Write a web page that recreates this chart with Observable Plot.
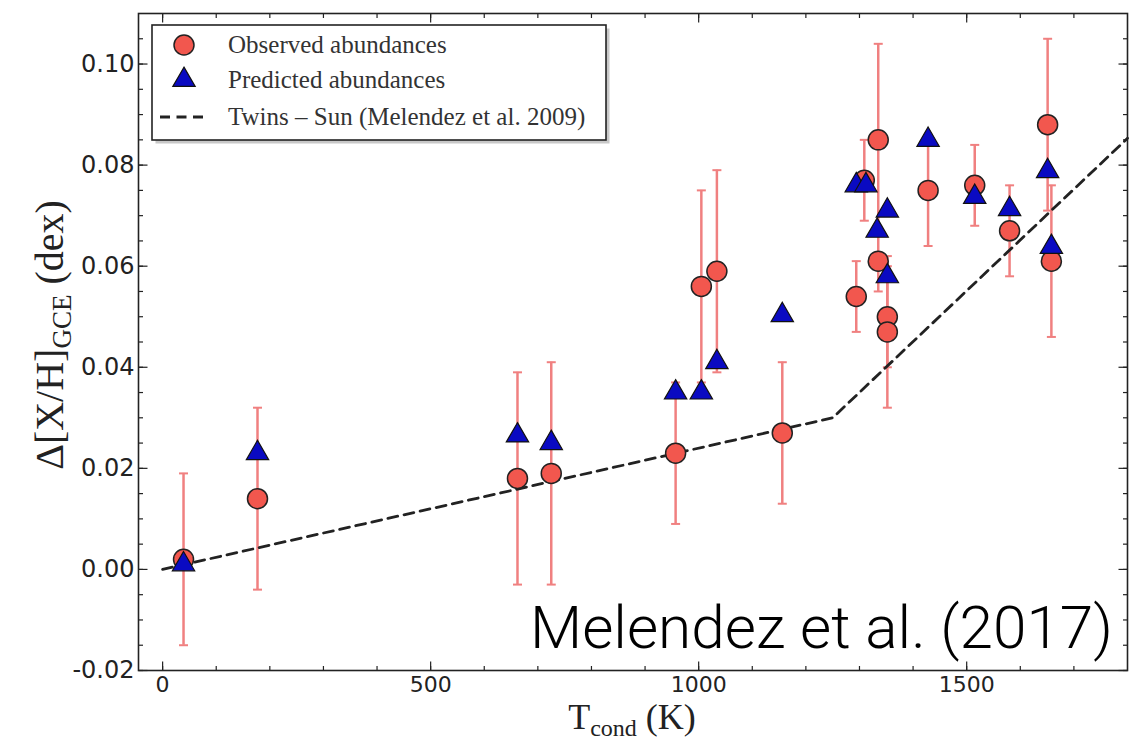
<!DOCTYPE html>
<html><head><meta charset="utf-8">
<script src="https://cdn.jsdelivr.net/npm/d3@7"></script>
<script src="https://cdn.jsdelivr.net/npm/@observablehq/plot@0.6"></script>
<style>
body{margin:0;background:#fff}
#wrap{position:relative;width:1129px;height:742px;overflow:hidden;background:#fff}
#wrap svg.ov{position:absolute;left:0;top:0}
</style>
</head><body><div id="wrap"></div>
<script>
// ---- data ----
const tcond     = [39, 177, 662, 725, 957, 1005, 1034, 1156, 1294, 1309, 1335, 1335, 1352, 1352, 1428, 1515, 1580, 1651, 1658];
const observed  = [0.002, 0.014, 0.018, 0.019, 0.023, 0.056, 0.059, 0.027, 0.054, 0.077, 0.085, 0.061, 0.050, 0.047, 0.075, 0.076, 0.067, 0.088, 0.061];
const obsError  = [0.017, 0.018, 0.021, 0.022, 0.014, 0.019, 0.020, 0.014, 0.007, 0.008, 0.019, 0.006, 0.010, 0.015, 0.011, 0.008, 0.009, 0.017, 0.015];
const predTcond = [39, 177, 662, 725, 957, 1005, 1034, 1156, 1294, 1312, 1333, 1352, 1352, 1428, 1515, 1580, 1651, 1658];
const predicted = [0.001, 0.023, 0.0265, 0.025, 0.035, 0.035, 0.041, 0.0503, 0.076, 0.076, 0.067, 0.071, 0.058, 0.085, 0.0737, 0.0713, 0.0788, 0.0638];
const twinsTcond = [0, 1250, 1800];
const twinsSun   = [0, 0.030, 0.0853];
const xTickLabels = [0, 500, 1000, 1500];
const yTickLabels = [-0.02, 0.00, 0.02, 0.04, 0.06, 0.08, 0.10];
const xMinorTicks = [0,100,200,300,400,500,600,700,800,900,1000,1100,1200,1300,1400,1500,1600,1700];
const yMinorTicks = [-0.02,-0.015,-0.01,-0.005,0,0.005,0.01,0.015,0.02,0.025,0.03,0.035,0.04,0.045,0.05,0.055,0.06,0.065,0.07,0.075,0.08,0.085,0.09,0.095,0.10,0.105];

const obsData = tcond.map((t, i) => ({t, v: observed[i], e: obsError[i]}));
const predData = predTcond.map((t, i) => ({t, v: predicted[i]}));
const twinsData = twinsTcond.map((t, i) => ({t, v: twinsSun[i]}));

const RED = "#f2574e", ERR = "#f08080", BLUE = "#0a0ac2", INK = "#222";
const seg = (dx, dy) => ({draw(c) { c.moveTo(0, 0); c.lineTo(dx, dy); }});
const cap = {draw(c) { c.moveTo(-4.5, 0); c.lineTo(4.5, 0); }};
const tickOpts = {stroke: INK, fill: "none", strokeWidth: 1.2};

const chart = Plot.plot({
  width: 1129, height: 742,
  marginLeft: 138, marginRight: 2, marginTop: 13, marginBottom: 72,
  x: {domain: [-45, 1800]},
  y: {domain: [-0.02, 0.11]},
  style: {background: "transparent", overflow: "visible"},
  marks: [
    // error bars
    Plot.ruleX(obsData, {x: "t", y1: d => d.v - d.e, y2: d => d.v + d.e, stroke: ERR, strokeWidth: 2.5}),
    Plot.dot(obsData, {x: "t", y: d => d.v - d.e, symbol: cap, stroke: ERR, fill: "none", strokeWidth: 2}),
    Plot.dot(obsData, {x: "t", y: d => d.v + d.e, symbol: cap, stroke: ERR, fill: "none", strokeWidth: 2}),
    // trend line
    Plot.line(twinsData, {x: "t", y: "v", stroke: INK, strokeWidth: 2.8, strokeDasharray: "10,6.5"}),
    // observed
    Plot.dot(obsData, {x: "t", y: "v", r: 10, fill: RED, stroke: INK, strokeWidth: 1.5}),
    // predicted
    Plot.dot(predData, {x: "t", y: "v", symbol: "triangle", r: 8.3, fill: BLUE, stroke: "#111", strokeWidth: 1.2}),
    // inward ticks: minor
    Plot.dot(xMinorTicks, {x: d => d, frameAnchor: "bottom", symbol: seg(0, -4.5), ...tickOpts}),
    Plot.dot(xMinorTicks, {x: d => d, frameAnchor: "top", symbol: seg(0, 4.5), ...tickOpts}),
    Plot.dot(yMinorTicks, {y: d => d, frameAnchor: "left", symbol: seg(4.5, 0), ...tickOpts}),
    Plot.dot(yMinorTicks, {y: d => d, frameAnchor: "right", symbol: seg(-4.5, 0), ...tickOpts}),
    // inward ticks: major
    Plot.dot(xTickLabels, {x: d => d, frameAnchor: "bottom", symbol: seg(0, -9), ...tickOpts}),
    Plot.dot(xTickLabels, {x: d => d, frameAnchor: "top", symbol: seg(0, 9), ...tickOpts}),
    Plot.dot(yTickLabels, {y: d => d, frameAnchor: "left", symbol: seg(9, 0), ...tickOpts}),
    Plot.dot(yTickLabels, {y: d => d, frameAnchor: "right", symbol: seg(-9, 0), ...tickOpts}),
    // tick labels
    Plot.axisX(xTickLabels, {anchor: "bottom", tickSize: 0, tickPadding: 6, label: null,
      tickFormat: d => String(d), fontSize: 22, fontFamily: "DejaVu Sans", fill: INK, stroke: INK, strokeWidth: 0.4}),
    Plot.axisY(yTickLabels, {anchor: "left", tickSize: 0, tickPadding: 4, label: null,
      tickFormat: d => d.toFixed(2), fontSize: 24, fontFamily: "DejaVu Sans", fill: INK, stroke: INK, strokeWidth: 0.5}),
    Plot.frame({stroke: INK, strokeWidth: 1.6})
  ]
});

const wrap = document.getElementById("wrap");
wrap.appendChild(chart);

// overlay: axis titles, legend, annotation
const ns = "http://www.w3.org/2000/svg";
const ov = document.createElementNS(ns, "svg");
ov.setAttribute("class", "ov");
ov.setAttribute("width", 1129);
ov.setAttribute("height", 742);
ov.innerHTML = `
  <text transform="translate(63,335) rotate(-90)" text-anchor="middle" font-family="Liberation Serif, DejaVu Serif, serif" font-size="40" fill="#222">Δ[X/H]<tspan font-size="27" dy="8">GCE</tspan><tspan dy="-8"> (dex)</tspan></text>
  <text x="632" y="729" text-anchor="middle" font-family="Liberation Serif, DejaVu Serif, serif" font-size="36" fill="#222">T<tspan font-size="24" dy="7">cond</tspan><tspan dy="-7"> (K)</tspan></text>
  <rect x="155.5" y="28.5" width="454" height="115" fill="#9a9a9a" opacity="0.55"/>
  <rect x="152" y="25" width="454" height="115" fill="#fff" stroke="#222" stroke-width="1.6"/>
  <circle cx="184" cy="45" r="10" fill="${RED}" stroke="#222" stroke-width="1.5"/>
  <path d="${d3.symbol(d3.symbolTriangle, Math.PI * 8.3 * 8.3)()}" transform="translate(184,80)" fill="${BLUE}" stroke="#111" stroke-width="1.2"/>
  <line x1="160" y1="117" x2="204" y2="117" stroke="#222" stroke-width="2.8" stroke-dasharray="10,6.5"/>
  <g font-family="Liberation Serif, DejaVu Serif, serif" font-size="25" fill="#333">
    <text x="228" y="53">Observed abundances</text>
    <text x="228" y="88">Predicted abundances</text>
    <text x="228" y="125">Twins – Sun (Melendez et al. 2009)</text>
  </g>
  <text x="1113" y="648" text-anchor="end" font-family="Roboto, Liberation Sans, sans-serif" font-weight="300" font-size="60" fill="#000" textLength="583" lengthAdjust="spacingAndGlyphs">Melendez et al. (2017)</text>
`;
wrap.appendChild(ov);
</script>
</body></html>
